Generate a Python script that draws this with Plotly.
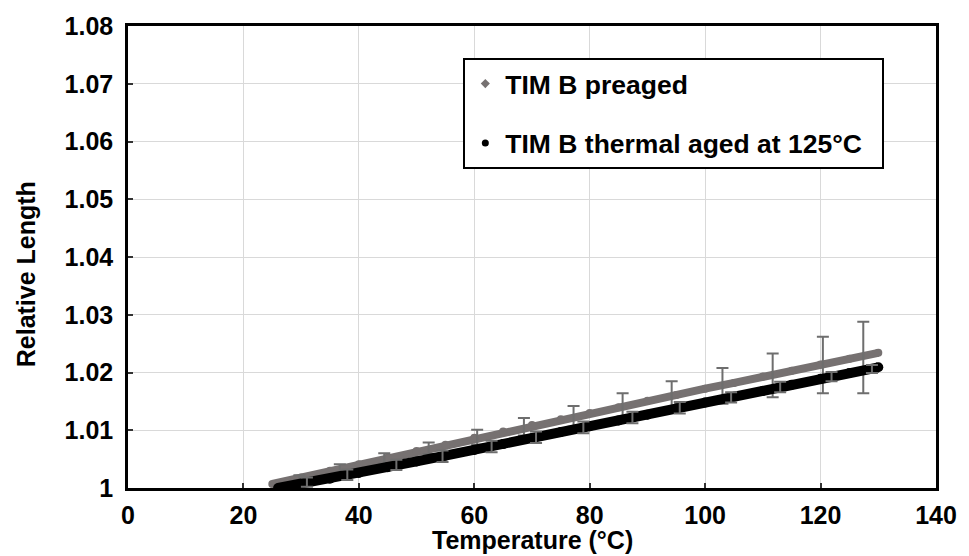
import plotly.graph_objects as go

# ---- data ----
temp_preaged = [25, 30, 35, 40, 45, 50, 55, 60, 65, 70, 75, 80, 85, 90, 95, 100, 105, 110, 115, 120, 125, 130]
len_preaged = [1.0007, 1.0018, 1.0030, 1.0041, 1.0053, 1.0064, 1.0075, 1.0087, 1.0098, 1.0109, 1.0119,
               1.0130, 1.0140, 1.0151, 1.0161, 1.0172, 1.0182, 1.0193, 1.0203, 1.0214, 1.0224, 1.0234]

temp_aged = [26, 30, 35, 40, 45, 50, 55, 60, 65, 70, 75, 80, 85, 90, 95, 100, 105, 110, 115, 120, 125, 130]
len_aged = [1.0000, 1.0007, 1.0016, 1.0026, 1.0036, 1.0046, 1.0056, 1.0066, 1.0076, 1.0086, 1.0097,
            1.0107, 1.0117, 1.0127, 1.0138, 1.0148, 1.0158, 1.0168, 1.0179, 1.0189, 1.0199, 1.0209]

err_temp_preaged = [29.7, 36.7, 44.4, 52.1, 60.5, 68.6, 77.2, 85.7, 94.2, 103, 111.7, 120.4, 127.4]
err_len_preaged = [1.0018, 1.0034, 1.0051, 1.0069, 1.0088, 1.0106, 1.0124, 1.0142, 1.0159, 1.0177, 1.0195, 1.0213, 1.0226]
err_size_preaged = [0.0004, 0.0007, 0.0009, 0.0010, 0.0013, 0.0015, 0.0018, 0.0022, 0.0026, 0.0031, 0.0038, 0.0049, 0.0062]

err_temp_aged = [31, 38, 46.5, 54.5, 63, 70.7, 78.9, 87.4, 95.6, 104.5, 113, 121.9, 128.9]
err_len_aged = [1.0010, 1.0023, 1.0040, 1.0055, 1.0072, 1.0088, 1.0105, 1.0122, 1.0139, 1.0157, 1.0175, 1.0193, 1.0206]
err_size_aged = [0.0008, 0.0009, 0.0009, 0.0010, 0.0010, 0.0010, 0.0010, 0.0010, 0.0010, 0.0009, 0.0009, 0.0008, 0.0007]

series_names = ["TIM B preaged", "TIM B thermal aged at 125°C"]
x_ticks = [0, 20, 40, 60, 80, 100, 120, 140]
y_ticks = [1, 1.01, 1.02, 1.03, 1.04, 1.05, 1.06, 1.07, 1.08]
y_ticklabels = ["1", "1.01", "1.02", "1.03", "1.04", "1.05", "1.06", "1.07", "1.08"]

GRAY = "#767171"
ERR = "#6e6e6e"
FONT = "Liberation Sans, Arial, sans-serif"

fig = go.Figure()

fig.add_trace(go.Scatter(x=temp_preaged, y=len_preaged, mode="lines+markers",
                         line=dict(color=GRAY, width=8), marker=dict(color=GRAY, size=8),
                         showlegend=False, hoverinfo="skip"))
fig.add_trace(go.Scatter(x=err_temp_preaged, y=err_len_preaged, mode="markers",
                         marker=dict(size=0.1, color=GRAY, opacity=0),
                         error_y=dict(type="data", array=err_size_preaged, visible=True,
                                      color=ERR, thickness=2, width=6),
                         showlegend=False, hoverinfo="skip"))
fig.add_trace(go.Scatter(x=temp_aged, y=len_aged, mode="lines+markers",
                         line=dict(color="black", width=10), marker=dict(color="black", size=10),
                         showlegend=False, hoverinfo="skip"))
fig.add_trace(go.Scatter(x=err_temp_aged, y=err_len_aged, mode="markers",
                         marker=dict(size=0.1, color="black", opacity=0),
                         error_y=dict(type="data", array=err_size_aged, visible=True,
                                      color=ERR, thickness=2, width=6),
                         showlegend=False, hoverinfo="skip"))

# legend entries
fig.add_trace(go.Scatter(x=[None], y=[None], mode="markers", name=series_names[0] + "\u00a0\u00a0",
                         marker=dict(symbol="diamond", size=7, color=GRAY), legendgroup="a"))
fig.add_trace(go.Scatter(x=[None], y=[None], mode="markers", name=series_names[1] + "\u00a0\u00a0",
                         marker=dict(symbol="circle", size=7, color="black"), legendgroup="b"))

axis_common = dict(showline=True, linecolor="black", linewidth=2.5, mirror=True,
                   showgrid=True, gridcolor="#d9d9d9", gridwidth=1,
                   ticks="inside", ticklen=5, tickcolor="#333333", tickwidth=1.5,
                   zeroline=False,
                   tickfont=dict(family=FONT, size=25, color="black", weight="bold"))

fig.update_xaxes(range=[0, 140], tickvals=x_ticks, ticklabelstandoff=3, **axis_common)
fig.update_yaxes(range=[1, 1.08], tickvals=y_ticks, ticktext=y_ticklabels, ticklabelstandoff=7,
                 **axis_common)

title_font = dict(family=FONT, size=25, color="black", weight="bold")
fig.update_layout(
    width=969, height=556,
    margin=dict(l=128, r=22, t=24, b=68),
    paper_bgcolor="white", plot_bgcolor="white",
    legend=dict(x=0.415, y=0.931, xanchor="left", yanchor="top",
                bordercolor="black", borderwidth=2, bgcolor="white",
                font=dict(family=FONT, size=26.5, color="black", weight="bold"),
                tracegroupgap=22),
    font=dict(family=FONT),
    annotations=[
        dict(text="Temperature (°C)", xref="paper", yref="paper", x=0.5, y=-0.112,
             xanchor="center", yanchor="middle", showarrow=False, font=title_font),
        dict(text="Relative Length", xref="paper", yref="paper", x=-0.1258, y=0.4634,
             xanchor="center", yanchor="middle", textangle=-90, showarrow=False, font=title_font),
    ],
)

fig.write_html("out.html", config={"displayModeBar": False},
               post_script="document.body.style.margin='0px';document.body.style.overflow='hidden';")
